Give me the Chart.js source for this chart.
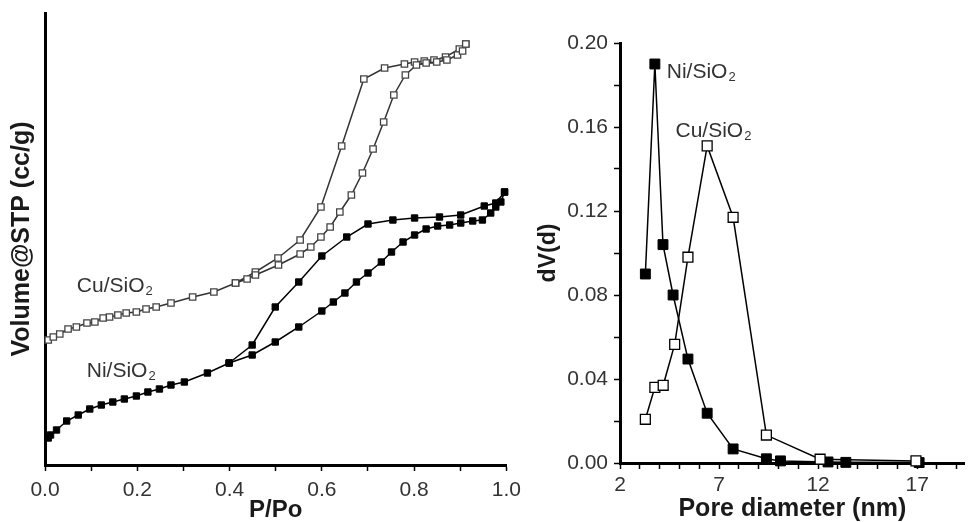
<!DOCTYPE html>
<html>
<head>
<meta charset="utf-8">
<script src="https://cdn.jsdelivr.net/npm/chart.js@4.4.1/dist/chart.umd.min.js"></script>
<style>
  html, body { margin: 0; padding: 0; background: #fff; }
  body { width: 973px; height: 522px; position: relative; overflow: hidden; }
  #left { position: absolute; left: 0; top: 0; }
  #right { position: absolute; left: 530px; top: 0; }
</style>
</head>
<body>
<canvas id="left" width="530" height="522"></canvas>
<canvas id="right" width="443" height="522"></canvas>
<script>
// ---------- Left panel: N2 isotherms (P/Po vs volume, arbitrary units) ----------
const cuAdsP = [0.007,0.018,0.032,0.05,0.068,0.091,0.108,0.126,0.14,0.158,0.176,0.198,0.219,0.241,0.273,0.32,0.366,0.413,0.438,0.456,0.506,0.553,0.576,0.598,0.618,0.639,0.664,0.688,0.711,0.734,0.756,0.781,0.805,0.826,0.849,0.871,0.894,0.905,0.912];
const cuAdsV = [125,128,131,136,138,142,143,147,148,150,152,153,156,158,162,168,173,182,186,190,200,211,218,228,238,253,270,292,316,343,370,390,400,402,403,405,410,414,421];
const cuDesP = [0.912,0.898,0.868,0.843,0.822,0.801,0.779,0.736,0.691,0.643,0.598,0.553,0.505,0.456,0.413];
const cuDesV = [421,416,408,405,404,403,401,397,386,319,258,225,207,193,182];

const niAdsP = [0.007,0.012,0.025,0.047,0.072,0.097,0.122,0.147,0.172,0.198,0.223,0.248,0.273,0.302,0.352,0.399,0.449,0.499,0.55,0.6,0.625,0.65,0.675,0.7,0.729,0.751,0.776,0.801,0.826,0.851,0.877,0.901,0.927,0.948,0.966,0.977,0.988,0.996];
const niAdsV = [27,30,35,44,50,56,60,63,66,69,73,76,80,83,92,102,110,123,138,154,163,172,183,192,203,213,223,230,236,239,240,242,244,245,252,258,263,273];
const niDesP = [0.996,0.977,0.952,0.901,0.855,0.801,0.754,0.7,0.654,0.6,0.55,0.499,0.449,0.399];
const niDesV = [273,262,259,250,248,247,245,241,228,209,183,158,120,102];

// ---------- Right panel: pore size distribution ----------
const niPoreD = [3.28,3.76,4.17,4.68,5.43,6.40,7.71,9.39,10.1,12.5,13.4,17.1];
const niDV    = [0.090,0.190,0.104,0.080,0.0495,0.0237,0.0067,0.002,0.001,0.0005,0.0003,0.0002];
const cuPoreD = [3.28,3.76,4.18,4.76,5.43,6.40,7.71,9.39,12.1,16.94];
const cuDV    = [0.0208,0.036,0.037,0.0565,0.098,0.151,0.117,0.0133,0.0018,0.001];

// Axis ticks
const leftXTicks  = ['0.0','0.2','0.4','0.6','0.8','1.0'];
const rightXTicks = ['2','7','12','17'];
const rightYTicks = ['0.00','0.04','0.08','0.12','0.16','0.20'];

// Sample labels, anchored at data coordinates [x, y]
const leftLabels  = [{main:'Cu/SiO', sub:'2', at:[0.069,173]}, {main:'Ni/SiO', sub:'2', at:[0.0905,88]}];
const rightLabels = [{main:'Ni/SiO', sub:'2', at:[4.36,0.1833]}, {main:'Cu/SiO', sub:'2', at:[4.80,0.1552]}];

const FONT = '"Liberation Sans", Arial, sans-serif';
const toPts = (xs, ys) => xs.map((x, i) => ({x, y: ys[i]}));

const labelPlugin = (labels, size) => ({
  id: 'sampleLabels',
  afterDatasetsDraw(chart) {
    const ctx = chart.ctx;
    const xs = chart.scales.x, ys = chart.scales.y;
    ctx.save();
    ctx.fillStyle = '#333';
    ctx.textBaseline = 'alphabetic';
    ctx.textAlign = 'left';
    labels.forEach(l => {
      const px = xs.getPixelForValue(l.at[0]);
      const py = ys.getPixelForValue(l.at[1]);
      ctx.font = size + 'px ' + FONT;
      ctx.fillText(l.main, px, py);
      const w = ctx.measureText(l.main).width;
      ctx.font = Math.round(size * 0.62) + 'px ' + FONT;
      ctx.fillText(l.sub, px + w + 1, py + 3);
    });
    ctx.restore();
  }
});

Chart.defaults.font.family = FONT;
Chart.defaults.animation = false;

function ds(pts, filled, r, lineColor, edge) {
  return {
    data: pts, showLine: true, clip: false,
    borderColor: lineColor, borderWidth: 1.5,
    pointStyle: 'rect', pointRadius: r, pointHoverRadius: r,
    pointBackgroundColor: filled ? '#000' : '#fff',
    pointBorderColor: edge, pointBorderWidth: filled ? 1 : 1.3,
    tension: 0
  };
}

// Left chart
new Chart(document.getElementById('left'), {
  type: 'scatter',
  data: { datasets: [
    ds(toPts(cuAdsP, cuAdsV), false, 4.5, '#333', '#444'),
    ds(toPts(cuDesP, cuDesV), false, 4.5, '#333', '#444'),
    ds(toPts(niAdsP, niAdsV), true, 4.5, '#000', '#000'),
    ds(toPts(niDesP, niDesV), true, 4.5, '#000', '#000')
  ]},
  options: {
    responsive: false, devicePixelRatio: 1,
    layout: { padding: { left: 0, right: 21, top: 13, bottom: 0 } },
    plugins: { legend: { display: false }, tooltip: { enabled: false } },
    scales: {
      x: {
        type: 'linear', min: 0, max: 1,
        afterFit: s => { s.height = 57; },
        border: { display: true, width: 3, color: '#000' },
        grid: { display: true, drawOnChartArea: false, drawTicks: true, tickLength: 6, color: '#000', tickColor: '#000', tickWidth: 1.5 },
        ticks: {
          stepSize: 0.1, padding: 9, color: '#333',
          font: { size: 21, lineHeight: 1 }, maxRotation: 0,
          callback: v => { const k = Math.round(v * 10); return k % 2 === 0 ? leftXTicks[k / 2] : ''; }
        },
        title: { display: true, text: 'P/Po', color: '#1a1a1a', font: { size: 24, weight: 'bold', lineHeight: 1 }, padding: { top: 0, bottom: 0 } }
      },
      y: {
        type: 'linear', min: 0, max: 452,
        afterFit: s => { s.width = 45; },
        border: { display: true, width: 3, color: '#000' },
        grid: { display: false },
        ticks: { display: false },
        title: { display: true, text: 'Volume@STP (cc/g)', color: '#1a1a1a', font: { size: 25, weight: 'bold', lineHeight: 1 }, padding: { top: 10, bottom: 0 } }
      }
    }
  },
  plugins: [labelPlugin(leftLabels, 21)]
});

// Right chart
new Chart(document.getElementById('right'), {
  type: 'scatter',
  data: { datasets: [
    ds(toPts(cuPoreD, cuDV), false, 7, '#000', '#000'),
    ds(toPts(niPoreD, niDV), true, 7, '#000', '#000')
  ]},
  options: {
    responsive: false, devicePixelRatio: 1,
    layout: { padding: { left: 0, right: 0, top: 43, bottom: 0 } },
    plugins: { legend: { display: false }, tooltip: { enabled: false } },
    scales: {
      x: {
        type: 'linear', min: 2, max: 19.4,
        afterFit: s => { s.height = 59; },
        border: { display: true, width: 3, color: '#000' },
        grid: { display: true, drawOnChartArea: false, drawTicks: true, tickLength: 6, color: '#000', tickColor: '#000', tickWidth: 1.5 },
        ticks: {
          stepSize: 1, includeBounds: false, padding: 6, color: '#333',
          font: { size: 21, lineHeight: 1 }, maxRotation: 0, autoSkip: false,
          callback: v => { const k = Math.round(v) - 2; return k % 5 === 0 ? rightXTicks[k / 5] : ''; }
        },
        title: { display: true, text: 'Pore diameter (nm)', color: '#1a1a1a', font: { size: 25, weight: 'bold', lineHeight: 1 }, padding: { top: 0, bottom: 0 } }
      },
      y: {
        type: 'linear', min: 0, max: 0.2,
        afterFit: s => { s.width = 90; },
        border: { display: true, width: 3, color: '#000' },
        grid: { display: true, drawOnChartArea: false, drawTicks: true, tickLength: 6, color: '#000', tickColor: '#000', tickWidth: 1.5 },
        ticks: {
          stepSize: 0.02, padding: 6, color: '#333', autoSkip: false,
          font: { size: 21, lineHeight: 1 },
          callback: v => { const k = Math.round(v * 100); return k % 4 === 0 ? rightYTicks[k / 4] : ''; }
        },
        title: { display: true, text: 'dV(d)', color: '#1a1a1a', font: { size: 23, weight: 'bold', lineHeight: 1 }, padding: { top: 7.5, bottom: 0 } }
      }
    }
  },
  plugins: [labelPlugin(rightLabels, 21)]
});
</script>
</body>
</html>
